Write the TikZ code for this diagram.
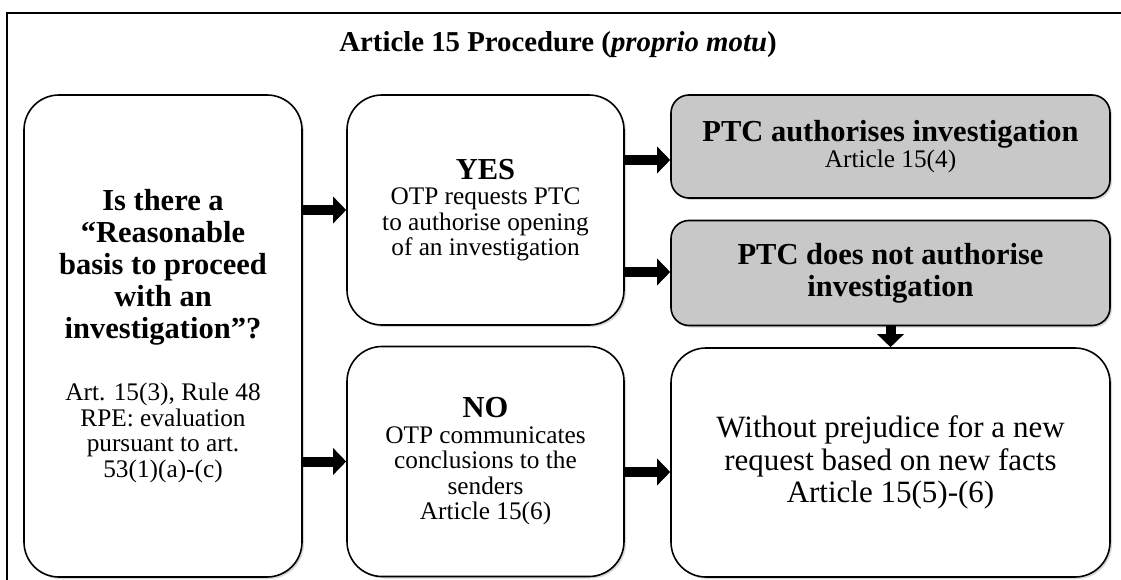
\documentclass[tikz,border=0pt]{standalone}
\usepackage{fontspec}
\setmainfont{Liberation Serif}
\usetikzlibrary{arrows.meta,shadows}
\definecolor{boxgray}{RGB}{200,200,200}
\tikzset{
  box/.style={draw=black, line width=1.6pt, rounded corners=35pt, fill=white,
    inner sep=0pt, execute at begin node=\centering,
    drop shadow={opacity=0.3, shadow xshift=2pt, shadow yshift=-2pt}},
  graybox/.style={box, fill=boxgray, rounded corners=18pt},
  bigarrow/.style={line width=10pt, -{Triangle[length=13pt,width=26pt]}},
}
\newcommand{\normsp}{\spaceskip=0pt \xspaceskip=0pt }
\newcommand{\bigbf}{\fontsize{30.5}{32}\selectfont\bfseries\normsp}
\newcommand{\midrm}{\fontsize{25.3}{25.5}\selectfont\normsp}
\newcommand{\bigrm}{\fontsize{31}{32.5}\selectfont\normsp}
\begin{document}
\begin{tikzpicture}[x=1pt,y=-1pt]
\useasboundingbox (0,0) rectangle (1121,580);
\begin{scope}
\clip (0,0) rectangle (1121,580);
\draw[line width=1.6pt] (7,600) -- (7,13) -- (1140,13);
\end{scope}
\node[font=\fontsize{28.8}{32}\selectfont\bfseries] (title) at (558,45)
  {Article 15 Procedure (\textit{proprio motu})};
% left box
\node[box, minimum width=278pt, minimum height=482pt, text width=270pt] (L) at (163,336)
  {{\bigbf Is there a\\ “Reasonable\\ basis to proceed\\ with an\\ investigation”?\par}
   \vspace{37pt}
   {\midrm Art. 15(3), Rule 48\\ RPE: evaluation\\ pursuant to art.\\ 53(1)(a)-(c)\par}};
% yes / no
\node[box, minimum width=277pt, minimum height=230pt, text width=270pt] (Y) at (485.5,210)
  {{\bigbf YES\par}
   {\midrm OTP requests PTC\\ to authorise opening\\ of an investigation\par}};
\node[box, minimum width=277pt, minimum height=230pt, text width=270pt] (N) at (485.5,461.5)
  {{\bigbf NO\par}
   {\midrm OTP communicates\\ conclusions to the\\ senders\\ Article 15(6)\par}};
% right column
\node[graybox, minimum width=439pt, minimum height=103pt, text width=430pt] (A) at (890.5,146.5)
  {{\bigbf PTC authorises investigation\par}
   {\midrm Article 15(4)\par}};
\node[graybox, minimum width=439pt, minimum height=105pt, text width=430pt] (D) at (890.5,273)
  {{\bigbf PTC does not authorise\\ investigation\par}};
\node[box, minimum width=439pt, minimum height=229pt, text width=430pt] (W) at (890.5,462.5)
  {{\bigrm Without prejudice for a new\\ request based on new facts\\ Article 15(5)-(6)\par}\vspace{6pt}};
% arrows
\draw[bigarrow] (L.east |- Y.west) -- (Y.west);
\draw[bigarrow] (L.east |- N.west) -- (N.west);
\draw[bigarrow] (Y.east |- 0,160) -- (A.west |- 0,160);
\draw[bigarrow] (Y.east |- 0,272) -- (D.west |- 0,272);
\draw[bigarrow] (N.east |- 0,472) -- (W.west |- 0,472);
\draw[bigarrow] (D.south) -- (W.north);
\end{tikzpicture}
\end{document}
